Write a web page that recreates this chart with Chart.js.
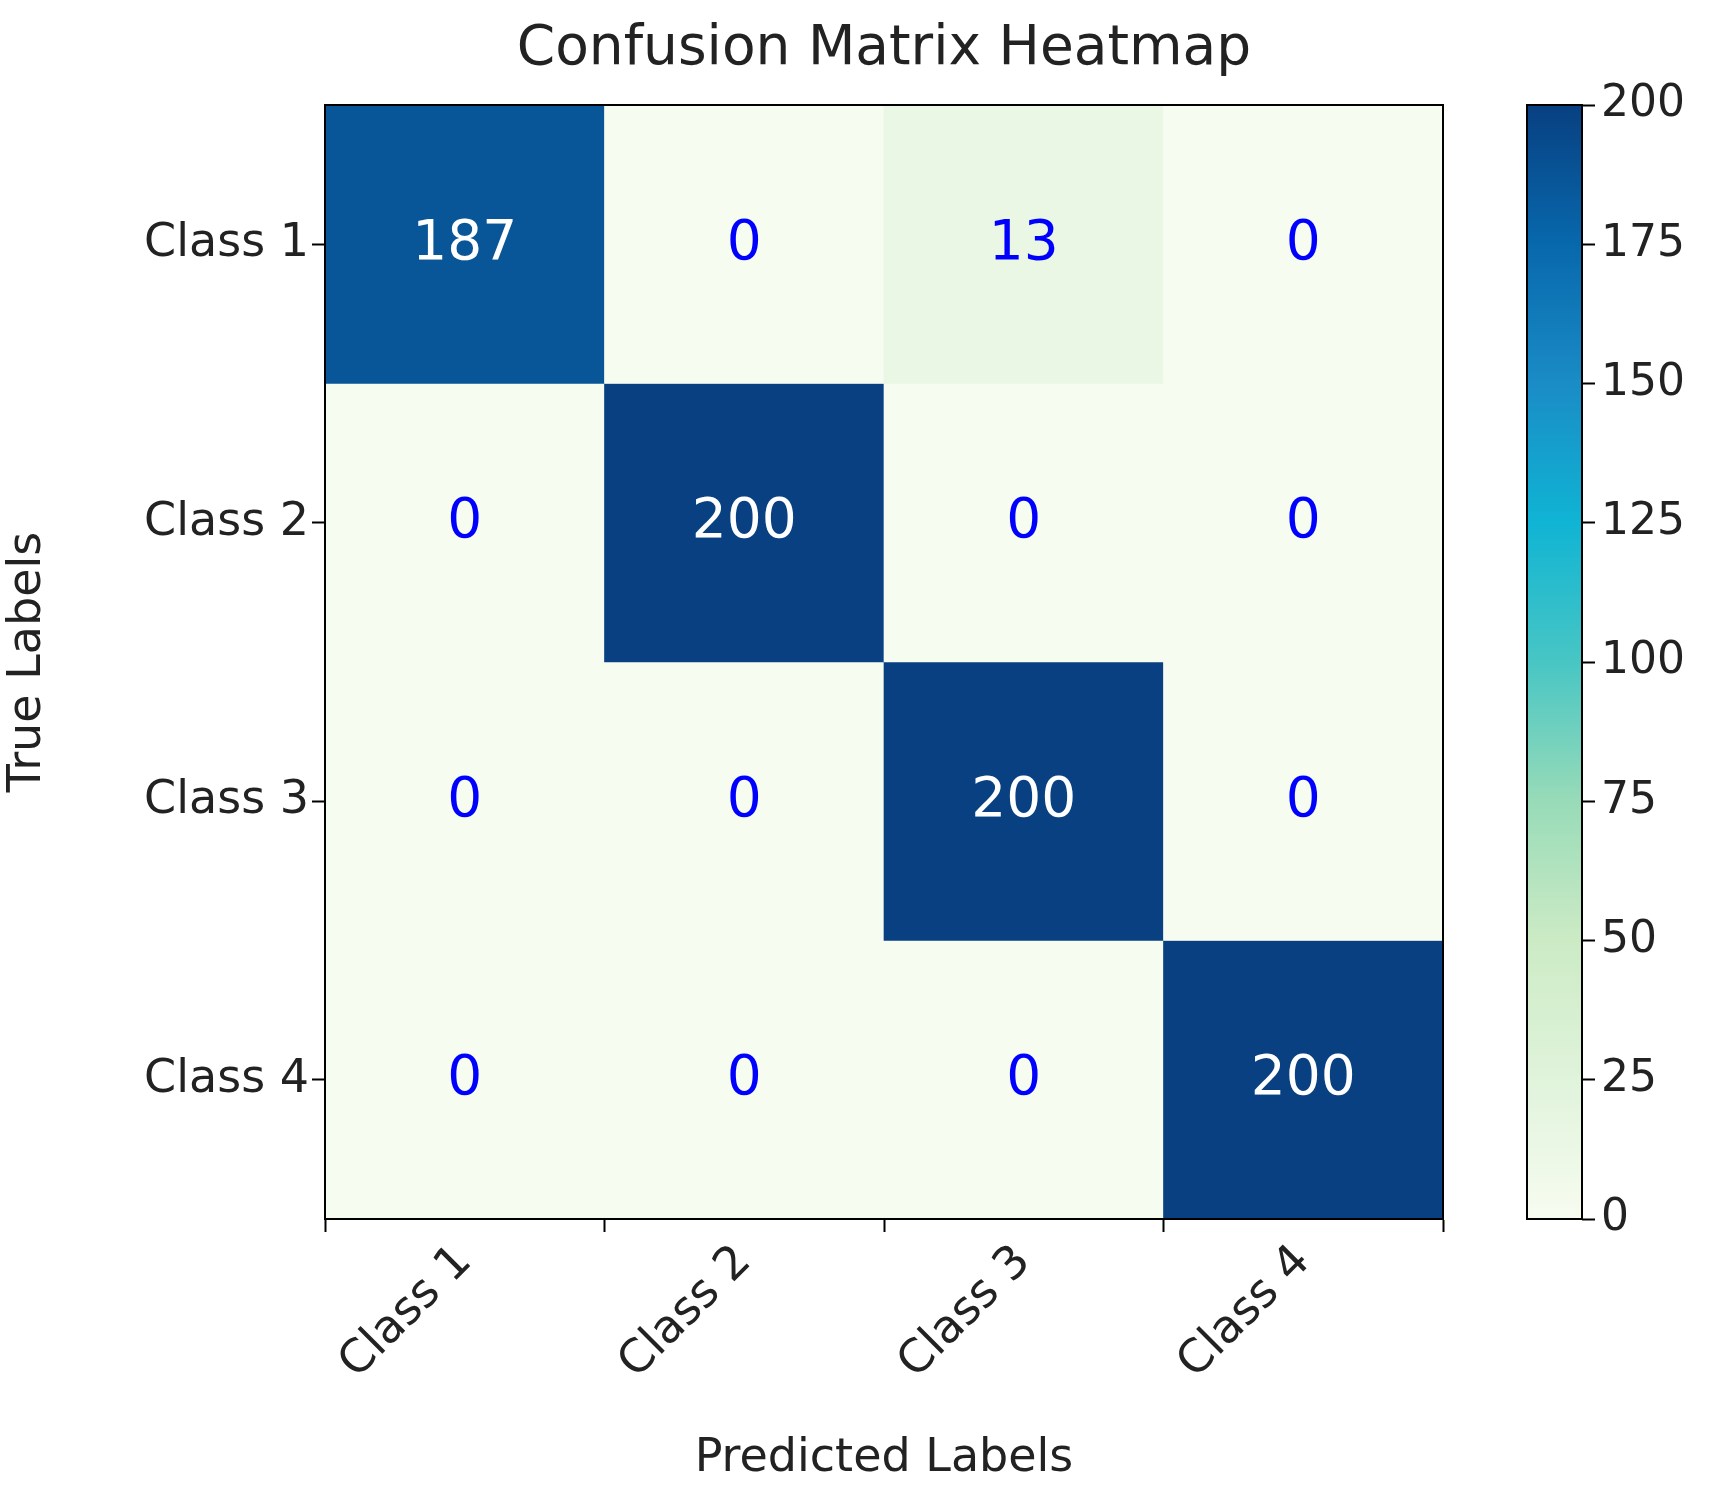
<!DOCTYPE html>
<html>
<head>
<meta charset="utf-8">
<script src="https://cdn.jsdelivr.net/npm/chart.js@4"></script>
<style>
  body { margin: 0; background: #fff; }
  #wrap { position: relative; width: 1728px; height: 1500px; }
  #heat { position: absolute; left: 0; top: 0; }
  #bar { position: absolute; left: 1470px; top: 0; }
</style>
</head>
<body>
<div id="wrap">
  <canvas id="heat" width="1460" height="1500"></canvas>
  <canvas id="bar" width="258" height="1500"></canvas>
</div>
<script>
// dati della matrice
const predLabels = ['Class 1', 'Class 2', 'Class 3', 'Class 4'];
const trueLabels = ['Class 1', 'Class 2', 'Class 3', 'Class 4'];
const row1 = [187, 0, 13, 0];
const row2 = [0, 200, 0, 0];
const row3 = [0, 0, 200, 0];
const row4 = [0, 0, 0, 200];
const rows = [row1, row2, row3, row4];
const cbTicks = [0, 25, 50, 75, 100, 125, 150, 175, 200];
const vMax = 200;

const FONT = 'DejaVu Sans';

// colormap simile a GnBu
const stops = ['#f7fcf0', '#e0f3db', '#ccebc5', '#98dbb8', '#48c6c4', '#10b4d4', '#1a8cc6', '#0868ac', '#084081'];
function hex(h) { return [1, 3, 5].map(i => parseInt(h.substr(i, 2), 16)); }
function cmap(v) {
  let t = Math.max(0, Math.min(1, v / vMax)) * (stops.length - 1);
  let i = Math.min(Math.floor(t), stops.length - 2), f = t - i;
  let a = hex(stops[i]), b = hex(stops[i + 1]);
  return 'rgb(' + a.map((c, k) => Math.round(c + (b[k] - c) * f)).join(',') + ')';
}

// un dataset per riga, barre flottanti
const datasets = rows.map((r, ri) => ({
  data: r.map(() => [ri - 0.5, ri + 0.5]),
  backgroundColor: r.map(v => cmap(v)),
  borderWidth: 0,
  barPercentage: 1,
  categoryPercentage: 1,
  grouped: false
}));

const cellText = {
  id: 'cellText',
  afterDatasetsDraw(chart) {
    const ctx = chart.ctx, x = chart.scales.x, y = chart.scales.y;
    const a = chart.chartArea;
    ctx.save();
    ctx.font = '55px ' + FONT;
    ctx.textAlign = 'center';
    ctx.textBaseline = 'middle';
    rows.forEach((r, ri) => r.forEach((v, ci) => {
      ctx.fillStyle = v > vMax / 2 ? '#ffffff' : '#0000ff';
      ctx.fillText(String(v), x.getPixelForValue(ci), y.getPixelForValue(ri));
    }));
    // cornice
    ctx.strokeStyle = '#000';
    ctx.lineWidth = 2;
    ctx.strokeRect(a.left, a.top, a.right - a.left, a.bottom - a.top);
    // titolo centrato sull'area
    ctx.fillStyle = '#222';
    ctx.fillText('Confusion Matrix Heatmap', (a.left + a.right) / 2, 50);
    ctx.restore();
  }
};

new Chart(document.getElementById('heat'), {
  type: 'bar',
  data: { labels: predLabels, datasets: datasets },
  options: {
    responsive: false,
    animation: false,
    layout: { padding: { top: 105, right: 17, left: 0, bottom: 13 } },
    plugins: { legend: { display: false }, tooltip: { enabled: false } },
    scales: {
      x: {
        offset: true,
        grid: { drawOnChartArea: false, tickLength: 13, tickColor: '#000', tickWidth: 2 },
        border: { color: '#000', width: 2 },
        ticks: { color: '#222', font: { family: FONT, size: 46 }, maxRotation: 45, minRotation: 45 },
        title: { display: true, text: 'Predicted Labels', color: '#222', font: { family: FONT, size: 46 }, padding: { top: 0, bottom: 0 } },
        afterFit(s) { s.height = 268; }
      },
      y: {
        type: 'linear', min: -0.5, max: 3.5, reverse: true,
        afterBuildTicks(s) { s.ticks = [0, 1, 2, 3].map(v => ({ value: v })); },
        grid: { drawOnChartArea: false, tickLength: 13, tickColor: '#000', tickWidth: 2 },
        border: { color: '#000', width: 2 },
        ticks: { color: '#222', font: { family: FONT, size: 46 }, callback: v => trueLabels[v] },
        title: { display: true, text: 'True Labels', color: '#222', font: { family: FONT, size: 46 }, padding: { top: 0, bottom: 0 } },
        afterFit(s) { s.width = 325; }
      }
    }
  },
  plugins: [cellText]
});

// barra colori
const cbFrame = {
  id: 'cbFrame',
  afterDatasetsDraw(chart) {
    const a = chart.chartArea, ctx = chart.ctx;
    ctx.save();
    ctx.strokeStyle = '#000';
    ctx.lineWidth = 2;
    ctx.strokeRect(a.left, a.top, a.right - a.left, a.bottom - a.top);
    ctx.restore();
  }
};

new Chart(document.getElementById('bar'), {
  type: 'bar',
  data: {
    labels: [''],
    datasets: [{
      data: [[0, vMax]],
      borderWidth: 0,
      barPercentage: 1,
      categoryPercentage: 1,
      backgroundColor(c) {
        const a = c.chart.chartArea;
        if (!a) return stops[0];
        const g = c.chart.ctx.createLinearGradient(0, a.bottom, 0, a.top);
        stops.forEach((s, i) => g.addColorStop(i / (stops.length - 1), s));
        return g;
      }
    }]
  },
  options: {
    responsive: false,
    animation: false,
    layout: { padding: { top: 105, left: 57, right: 0, bottom: 281 } },
    plugins: { legend: { display: false }, tooltip: { enabled: false } },
    scales: {
      x: { display: false },
      y: {
        position: 'right', min: 0, max: vMax,
        afterBuildTicks(s) { s.ticks = cbTicks.map(v => ({ value: v })); },
        grid: { drawOnChartArea: false, tickLength: 13, tickColor: '#000', tickWidth: 2 },
        border: { display: false },
        ticks: { color: '#222', font: { family: FONT, size: 44 }, padding: 6 },
        afterFit(s) { s.width = 146; }
      }
    }
  },
  plugins: [cbFrame]
});
</script>
</body>
</html>
